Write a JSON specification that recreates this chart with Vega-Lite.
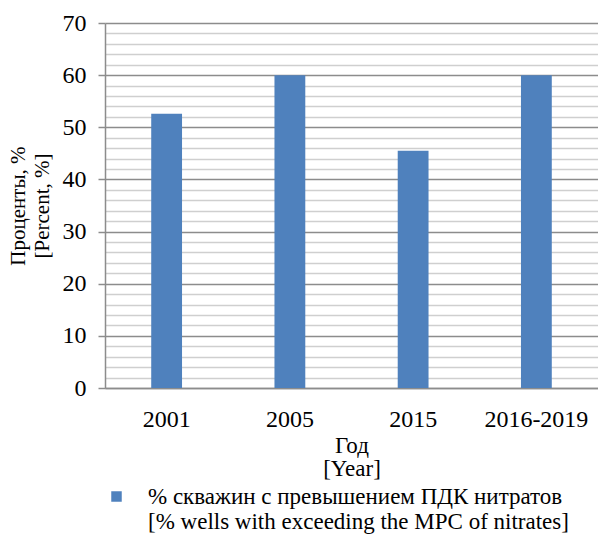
{
  "$schema": "https://vega.github.io/schema/vega-lite/v6.json",
  "width": 493,
  "height": 365,
  "padding": {"left": 7, "top": 11, "right": 0, "bottom": 0},
  "background": "white",
  "config": {
    "font": "Liberation Serif",
    "view": {"stroke": null},
    "axis": {"labelFont": "Liberation Serif", "titleFont": "Liberation Serif", "labelColor": "#000", "titleColor": "#000", "titleFontWeight": "normal"},
    "legend": {"labelFont": "Liberation Serif", "labelColor": "#000"}
  },
  "data": {
    "values": [
      {"year": "2001", "percent": 52.6, "series": "wells"},
      {"year": "2005", "percent": 60, "series": "wells"},
      {"year": "2015", "percent": 45.5, "series": "wells"},
      {"year": "2016-2019", "percent": 60, "series": "wells"}
    ]
  },
  "mark": {"type": "bar"},
  "encoding": {
    "x": {
      "field": "year",
      "type": "nominal",
      "sort": null,
      "scale": {"paddingInner": 0.75, "paddingOuter": 0.375},
      "axis": {
        "title": ["Год", "[Year]"],
        "titleFontSize": 23,
        "titleLineHeight": 23,
        "titlePadding": 3,
        "labelAngle": 0,
        "labelFontSize": 24,
        "labelPadding": 19,
        "ticks": false,
        "domain": true,
        "domainColor": "#8c8c8c",
        "domainWidth": 1.5
      }
    },
    "y": {
      "field": "percent",
      "type": "quantitative",
      "scale": {"domain": [0, 70], "nice": false},
      "axis": {
        "title": ["Проценты, %", "[Percent, %]"],
        "titleFontSize": 21,
        "titleLineHeight": 24,
        "titlePadding": 10,
        "values": [0, 2, 4, 6, 8, 10, 12, 14, 16, 18, 20, 22, 24, 26, 28, 30, 32, 34, 36, 38, 40, 42, 44, 46, 48, 50, 52, 54, 56, 58, 60, 62, 64, 66, 68, 70],
        "labelExpr": "datum.value % 10 === 0 ? datum.label : ''",
        "labelFontSize": 24,
        "labelPadding": 12,
        "grid": true,
        "gridColor": {"condition": {"test": "datum.value % 10 === 0", "value": "#8c8c8c"}, "value": "#cfcfcf"},
        "gridWidth": 1.5,
        "tickColor": {"condition": {"test": "datum.value % 10 === 0", "value": "#8c8c8c"}, "value": "transparent"},
        "tickSize": 7,
        "tickWidth": 1.5,
        "domainColor": "#8c8c8c",
        "domainWidth": 1.5
      }
    },
    "color": {
      "field": "series",
      "type": "nominal",
      "scale": {"range": ["#4F81BD"]},
      "legend": {
        "orient": "bottom",
        "title": null,
        "symbolType": "square",
        "symbolSize": 110,
        "symbolStrokeWidth": 0,
        "labelFontSize": 23,
        "labelLimit": 600,
        "labelOffset": 20,
        "labelExpr": "['% скважин с превышением ПДК нитратов', '[% wells with exceeding the MPC of nitrates]']",
        "offset": 5
      }
    }
  }
}
